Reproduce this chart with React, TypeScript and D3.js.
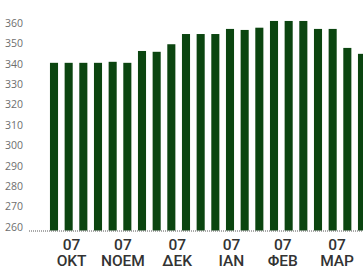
import React, { useEffect, useRef } from "react";
import * as d3 from "d3";

const W = 363;
const H = 266;

// weekly values
const values = [
    340.5, 340.5, 340.5, 340.5, 341, 340.5, 346.3, 345.9, 349.6, 354.6, 354.6,
    354.6, 357.1, 356.6, 357.7, 361, 361, 361, 357.1, 357.1, 347.8, 344.9,
];
const yTicks = [260, 270, 280, 290, 300, 310, 320, 330, 340, 350, 360];
const monthYears = ["07", "07", "07", "07", "07", "07"];
const monthNames = ["ΟΚΤ", "ΝΟΕΜ", "ΔΕΚ", "ΙΑΝ", "ΦΕΒ", "ΜΑΡ"];
// position of each month label, in bar units
const monthPos = [1.2, 4.7, 8.4, 12.1, 15.6, 19.3];

const yMin = 258.4;
const yMax = 360;

function draw(el: SVGSVGElement) {
    const svg = d3.select(el);
    svg.selectAll("*").remove();

    const x = d3.scaleLinear().domain([0, values.length - 1]).range([54, 362]);
    const step = x(1) - x(0);
    const bw = step * 0.55;
    const y = d3.scaleLinear().domain([yMin, yMax]).range([230.5, 23]);

    // y labels
    svg.append("g")
        .selectAll("text")
        .data(yTicks)
        .join("text")
        .attr("x", 23)
        .attr("y", (d) => y(d))
        .attr("dy", "0.35em")
        .attr("text-anchor", "end")
        .attr("fill", "#6e6e6e")
        .style("font", "10.5px 'Open Sans', sans-serif")
        .text((d) => d);

    // bars
    svg.append("g")
        .attr("fill", "#0b4510")
        .selectAll("rect")
        .data(values)
        .join("rect")
        .attr("x", (_d, i) => x(i) - bw / 2)
        .attr("y", (d) => y(d))
        .attr("width", bw)
        .attr("height", (d) => y(yMin) - y(d));

    // dotted baseline
    svg.append("line")
        .attr("x1", 29)
        .attr("x2", W)
        .attr("y1", y(yMin) + 0.5)
        .attr("y2", y(yMin) + 0.5)
        .attr("stroke", "#555")
        .attr("stroke-width", 1)
        .attr("stroke-dasharray", "1,1");

    // month labels
    const g = svg.append("g")
        .attr("text-anchor", "middle")
        .attr("fill", "#333")
        .style("font", "500 15.5px Roboto, sans-serif");

    g.selectAll("text.yr")
        .data(monthPos)
        .join("text")
        .attr("class", "yr")
        .attr("x", (d) => x(d))
        .attr("y", 244)
        .attr("dy", "0.36em")
        .text((_d, i) => monthYears[i]);

    g.selectAll("text.mo")
        .data(monthPos)
        .join("text")
        .attr("class", "mo")
        .attr("x", (d) => x(d))
        .attr("y", 260)
        .attr("dy", "0.36em")
        .text((_d, i) => monthNames[i]);
}

export default function App() {
    const ref = useRef<SVGSVGElement>(null);
    useEffect(() => {
        if (ref.current) draw(ref.current);
    }, []);
    return (
        <svg
            ref={ref}
            width={W}
            height={H}
            style={{ position: "absolute", left: 0, top: 0, background: "#fff" }}
        />
    );
}
